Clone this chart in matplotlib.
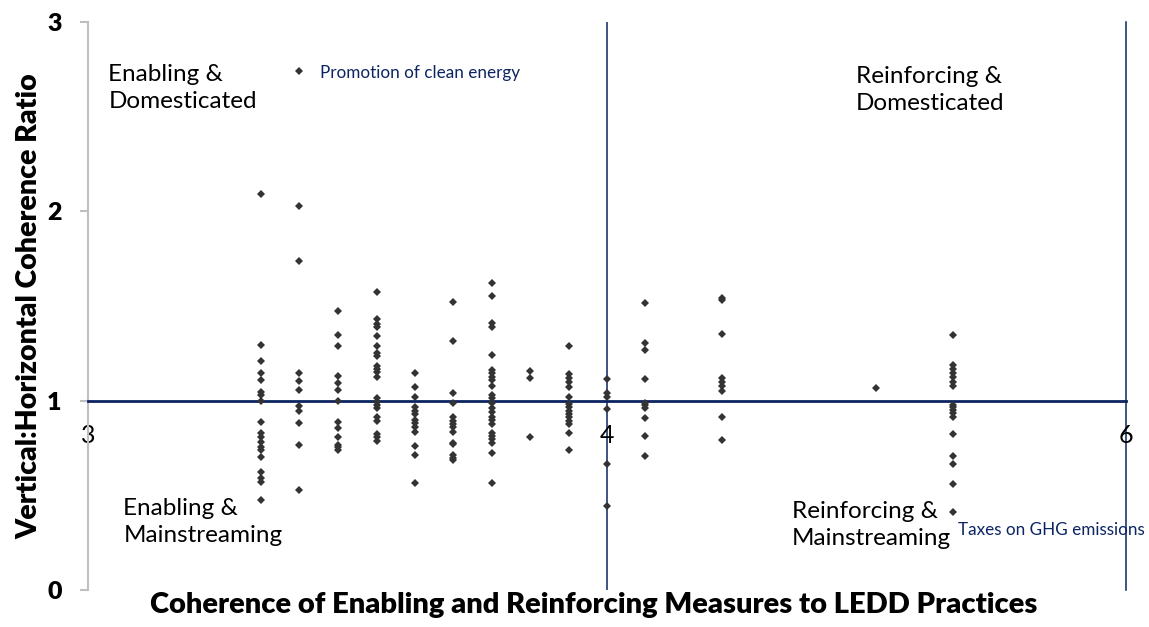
import numpy as np
import matplotlib.pyplot as plt

plt.rcParams['font.family'] = ['Lato', 'DejaVu Sans']

# coherence score of each column of measures (x) and the vertical:horizontal ratios in it (y)
coherence = [3.333, 3.407, 3.481, 3.556, 3.630, 3.704, 3.778, 3.852, 3.926,
             4.0, 4.148, 4.444, 5.037, 5.333]
ratios = [
  [2.09, 1.294, 1.211, 1.145, 1.109, 1.047, 1.030, 1.0, 0.889, 0.828, 0.810,
   0.783, 0.756, 0.739, 0.701, 0.625, 0.590, 0.572, 0.475],
  [2.74, 2.028, 1.736, 1.145, 1.106, 1.056, 0.973, 0.947, 0.880, 0.764, 0.528],
  [1.475, 1.347, 1.289, 1.132, 1.095, 1.056, 1.0, 0.889, 0.854, 0.810, 0.766,
   0.754, 0.739],
  [1.576, 1.431, 1.405, 1.388, 1.343, 1.290, 1.250, 1.238, 1.185, 1.167, 1.153,
   1.123, 1.012, 0.995, 0.977, 0.960, 0.912, 0.894, 0.824, 0.807, 0.789],
  [1.148, 1.074, 1.021, 0.965, 0.947, 0.930, 0.898, 0.880, 0.863, 0.836, 0.761,
   0.713, 0.563],
  [1.521, 1.313, 1.042, 0.989, 0.915, 0.894, 0.877, 0.859, 0.835, 0.775, 0.769,
   0.713, 0.696, 0.687],
  [1.620, 1.553, 1.412, 1.388, 1.240, 1.162, 1.145, 1.123, 1.109, 1.077, 1.030,
   1.012, 0.986, 0.960, 0.942, 0.915, 0.898, 0.877, 0.831, 0.813, 0.796, 0.778,
   0.725, 0.563],
  [1.158, 1.118, 0.806],
  [1.289, 1.141, 1.120, 1.099, 1.071, 1.021, 0.982, 0.965, 0.947, 0.930, 0.912,
   0.894, 0.877, 0.828, 0.739],
  [1.113, 1.042, 1.021, 0.954, 0.665, 0.444],
  [1.514, 1.303, 1.268, 1.114, 0.989, 0.975, 0.961, 0.907, 0.815, 0.709],
  [1.541, 1.530, 1.351, 1.118, 1.100, 1.077, 1.051, 0.915, 0.791],
  [1.069],
  [1.347, 1.188, 1.166, 1.145, 1.123, 1.100, 1.077, 0.977, 0.965, 0.951, 0.933,
   0.915, 0.824, 0.708, 0.665, 0.558, 0.410],
]

x_ticks = [3, 4, 6]
y_ticks = [0, 1, 2, 3]

# labelled measures
callouts = ['Promotion of clean energy', 'Taxes on GHG emissions']
callout_x = [3.407, 5.333]
callout_y = [2.74, 0.41]
callout_offset = [(15, -1), (4, -13)]

quadrants = ['Enabling &\nDomesticated', 'Reinforcing &\nDomesticated',
             'Enabling &\nMainstreaming', 'Reinforcing &\nMainstreaming']
quadrant_x = [3.039, 4.958, 3.068, 4.712]
quadrant_y = [2.651, 2.641, 0.359, 0.343]

navy = '#0c2461'
dot = '#333333'


# the original axis squeezes 4..6 into the same width as 3..4
def forward(x):
  x = np.asarray(x, dtype=float)
  return np.where(x <= 4, x, 4 + (x - 4) / 2)

def inverse(x):
  x = np.asarray(x, dtype=float)
  return np.where(x <= 4, x, 4 + (x - 4) * 2)


xs = []
ys = []
for cx, col in zip(coherence, ratios):
  xs += [cx] * len(col)
  ys += col

fig = plt.figure(figsize=(11.49, 6.27), dpi=100)
ax = fig.add_axes([0.0766, 0.059, 0.9034, 0.906])
ax.set_xscale('function', functions=(forward, inverse))

ax.plot(xs, ys, linestyle='none', marker='D', markersize=3.6, color=dot,
        markeredgewidth=0, zorder=3)

ax.axvline(4, color=navy, linewidth=1.1, zorder=1)
ax.axvline(6, color=navy, linewidth=1.1, zorder=1, clip_on=False)

ax.set_xlim(3, 6)
ax.set_ylim(0, 3)

ax.spines['top'].set_visible(False)
ax.spines['right'].set_visible(False)
ax.spines['left'].set_color('#bfbfbf')
ax.spines['left'].set_linewidth(1.5)
ax.spines['bottom'].set_position(('data', 1))
ax.spines['bottom'].set_color(navy)
ax.spines['bottom'].set_linewidth(2)

ax.set_xticks(x_ticks)
ax.set_xticklabels([str(t) for t in x_ticks])
ax.xaxis.set_minor_locator(plt.NullLocator())
ax.tick_params(axis='x', length=0, pad=17, labelsize=18)
ax.set_yticks(y_ticks)
ax.set_yticklabels([str(t) for t in y_ticks], fontweight='heavy')
ax.tick_params(axis='y', length=6, width=1.5, color='#bfbfbf', pad=13,
               labelsize=18)

ax.set_ylabel('Vertical:Horizontal Coherence Ratio', fontsize=20.5,
              fontweight='heavy')
ax.yaxis.set_label_coords(-0.044, 0.5)
ax.set_xlabel('Coherence of Enabling and Reinforcing Measures to LEDD Practices',
              fontsize=21, fontweight='heavy')
ax.xaxis.set_label_coords(0.487, -0.003)

for label, qx, qy in zip(quadrants, quadrant_x, quadrant_y):
  ax.text(qx, qy, label, fontsize=17.5, ha='left', va='center',
          linespacing=1.4, color='black')

for label, lx, ly, off in zip(callouts, callout_x, callout_y, callout_offset):
  ax.annotate(label, (lx, ly), xytext=off, textcoords='offset points',
              fontsize=12.3, color=navy, ha='left', va='center')

fig.savefig('out.png', dpi=100)
